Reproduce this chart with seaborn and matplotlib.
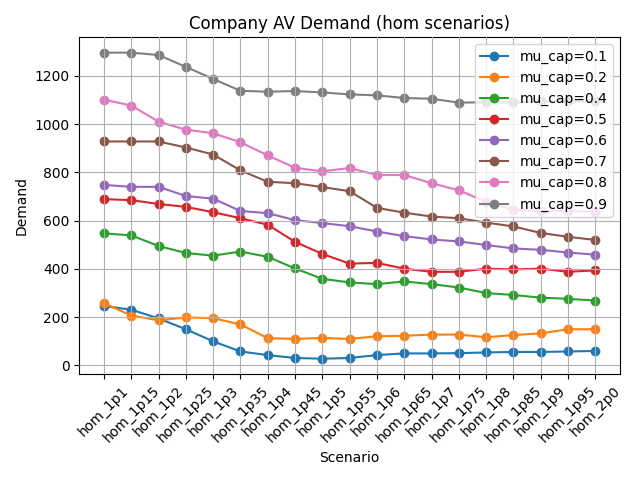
import matplotlib
matplotlib.use("Agg")
import matplotlib.pyplot as plt
import seaborn as sns
import pandas as pd

scenarios = ["hom_1p1", "hom_1p15", "hom_1p2", "hom_1p25", "hom_1p3", "hom_1p35",
             "hom_1p4", "hom_1p45", "hom_1p5", "hom_1p55", "hom_1p6", "hom_1p65",
             "hom_1p7", "hom_1p75", "hom_1p8", "hom_1p85", "hom_1p9", "hom_1p95", "hom_2p0"]

mu_01 = [246, 231, 195, 150, 100, 58, 43, 31, 28, 31, 43, 50, 50, 51, 54, 56, 56, 58, 60]
mu_02 = [258, 207, 187, 199, 196, 170, 113, 110, 114, 110, 121, 123, 128, 128, 117, 126, 133, 150, 150]
mu_04 = [547, 539, 495, 466, 455, 472, 450, 402, 359, 344, 337, 348, 337, 323, 300, 292, 281, 276, 269]
mu_05 = [689, 685, 669, 657, 635, 610, 583, 512, 462, 422, 425, 401, 388, 388, 401, 398, 401, 388, 394]
mu_06 = [748, 740, 740, 702, 691, 640, 631, 602, 590, 577, 555, 536, 522, 514, 499, 485, 479, 468, 459]
mu_07 = [928, 928, 928, 903, 874, 808, 761, 755, 739, 722, 653, 633, 617, 610, 592, 576, 549, 533, 520]
mu_08 = [1101, 1077, 1010, 977, 962, 925, 870, 819, 804, 818, 789, 789, 755, 726, 678, 645, 640, 640, 637]
mu_09 = [1296, 1296, 1286, 1237, 1187, 1138, 1134, 1137, 1131, 1123, 1119, 1108, 1105, 1089, 1090, 1090, 1094, 1094, 1094]

series = {"0.1": mu_01, "0.2": mu_02, "0.4": mu_04, "0.5": mu_05,
          "0.6": mu_06, "0.7": mu_07, "0.8": mu_08, "0.9": mu_09}

colors = sns.color_palette("tab10", len(series))

fig, ax = plt.subplots(figsize=(6.4, 4.8), dpi=100)
for (cap, vals), c in zip(series.items(), colors):
    df = pd.DataFrame({"Scenario": scenarios, "Demand": vals})
    sns.lineplot(data=df, x="Scenario", y="Demand", ax=ax, color=c, marker="o",
                 markersize=6, markeredgecolor=c, markeredgewidth=1,
                 label=f"mu_cap={cap}", sort=False)

ax.set_title("Company AV Demand (hom scenarios)")
ax.set_xlabel("Scenario")
ax.set_ylabel("Demand")
ax.grid(True)
ax.set_axisbelow(False)
plt.setp(ax.get_xticklabels(), rotation=45)
ax.legend(loc="upper right")
fig.tight_layout()
fig.savefig("out.png", dpi=100)
